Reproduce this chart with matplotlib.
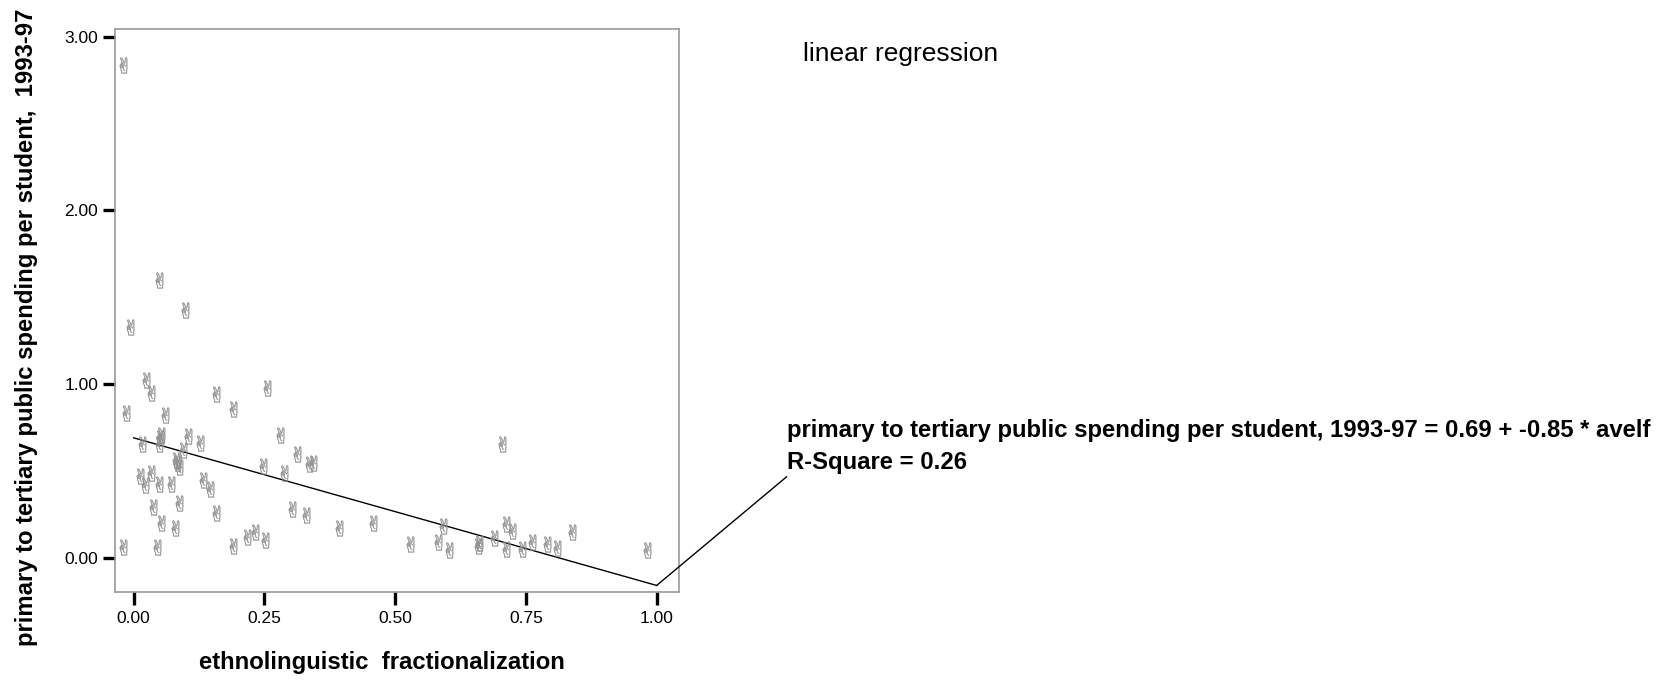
import matplotlib
matplotlib.use("Agg")
import matplotlib.pyplot as plt
import numpy as np

# ethnolinguistic fractionalization vs spending ratio
avelf = [-0.020, 0.048, 0.098, -0.007, 0.023, 0.034, 0.157, 0.254, -0.015, 0.060,
         0.190, 0.052, 0.048, 0.104, 0.127, 0.015, 0.094, 0.280, 0.312, 0.336,
         0.343, 0.248, 0.288, 0.083, 0.086, 0.012, 0.033, 0.022, 0.048, 0.071,
         0.132, 0.146, 0.037, 0.086, 0.157, 0.303, 0.329, 0.052, 0.079, 0.393,
         0.457, -0.020, 0.044, 0.190, 0.216, 0.232, 0.251, 0.704, 0.592, 0.528,
         0.581, 0.603, 0.661, 0.659, 0.689, 0.712, 0.723, 0.712, 0.742, 0.761,
         0.790, 0.809, 0.839, 0.981, 0.050, 0.080]
spending = [2.836, 1.598, 1.425, 1.326, 1.023, 0.950, 0.941, 0.975, 0.831, 0.822,
            0.854, 0.706, 0.655, 0.700, 0.658, 0.653, 0.620, 0.706, 0.597, 0.538,
            0.547, 0.528, 0.486, 0.543, 0.524, 0.470, 0.486, 0.419, 0.422, 0.422,
            0.447, 0.394, 0.294, 0.317, 0.256, 0.279, 0.246, 0.202, 0.169, 0.169,
            0.198, 0.063, 0.063, 0.067, 0.121, 0.146, 0.102, 0.653, 0.182, 0.077,
            0.089, 0.044, 0.083, 0.067, 0.112, 0.194, 0.155, 0.050, 0.050, 0.089,
            0.079, 0.054, 0.146, 0.044, 0.690, 0.560]

intercept = 0.69
slope = -0.85
r_square = 0.26
fit_x = [0.0, 1.0]

xticks = [0.0, 0.25, 0.5, 0.75, 1.0]
yticks = [0.0, 1.0, 2.0, 3.0]

W, H = 1668, 681
plt.rcParams['font.family'] = ['Liberation Sans', 'DejaVu Sans']

fig = plt.figure(figsize=(W / 100, H / 100), dpi=100)
ax = fig.add_axes([114.7 / W, 1 - 591.7 / H, (679 - 114.7) / W, (591.7 - 29) / H])

ax.scatter(avelf, spending, marker='$\u270C$', s=130, c='#8e8e8e', linewidths=0.25, zorder=3)

fit_y = [intercept + slope * v for v in fit_x]
ax.plot(fit_x, fit_y, color='black', lw=1.0, zorder=2)

ax.set_xlim(-0.0363, 1.0427)
ax.set_ylim(-0.196, 3.044)
ax.set_xticks(xticks)
ax.set_yticks(yticks)
ax.set_xticklabels([f"{v:.2f}" for v in xticks])
ax.set_yticklabels([f"{v:.2f}" for v in yticks])
ax.tick_params(direction='out', length=9, width=2.4, color='black', labelsize=12.5, pad=3)
ax.tick_params(axis='x', pad=5)
for sp in ax.spines.values():
    sp.set_color('#999999')
    sp.set_linewidth(1.2)

fig.text(382 / W, 1 - 663 / H, 'ethnolinguistic  fractionalization', ha='center', va='center',
         fontsize=17.2, fontweight='bold')
fig.text(27 / W, 1 - 327 / H, 'primary to tertiary public spending per student,  1993-97',
         ha='center', va='center', rotation=90, fontsize=17.2, fontweight='bold')

fig.text(803 / W, 1 - 54 / H, 'linear regression', ha='left', va='center', fontsize=19)

eq = f"primary to tertiary public spending per student, 1993-97 = {intercept:.2f} + {slope:.2f} * avelf"
fig.text(787 / W, 1 - 430 / H, eq, ha='left', va='center', fontsize=17.2, fontweight='bold')
fig.text(787 / W, 1 - 463 / H, f'R-Square = {r_square:.2f}', ha='left', va='center',
         fontsize=17.2, fontweight='bold')

ax.annotate('', xy=(1.0, intercept + slope), xycoords='data',
            xytext=(786.7 / W, 1 - 476.7 / H), textcoords='figure fraction',
            arrowprops=dict(arrowstyle='-', lw=1.0, color='black', shrinkA=0, shrinkB=0))

fig.savefig('out.png', dpi=100)
